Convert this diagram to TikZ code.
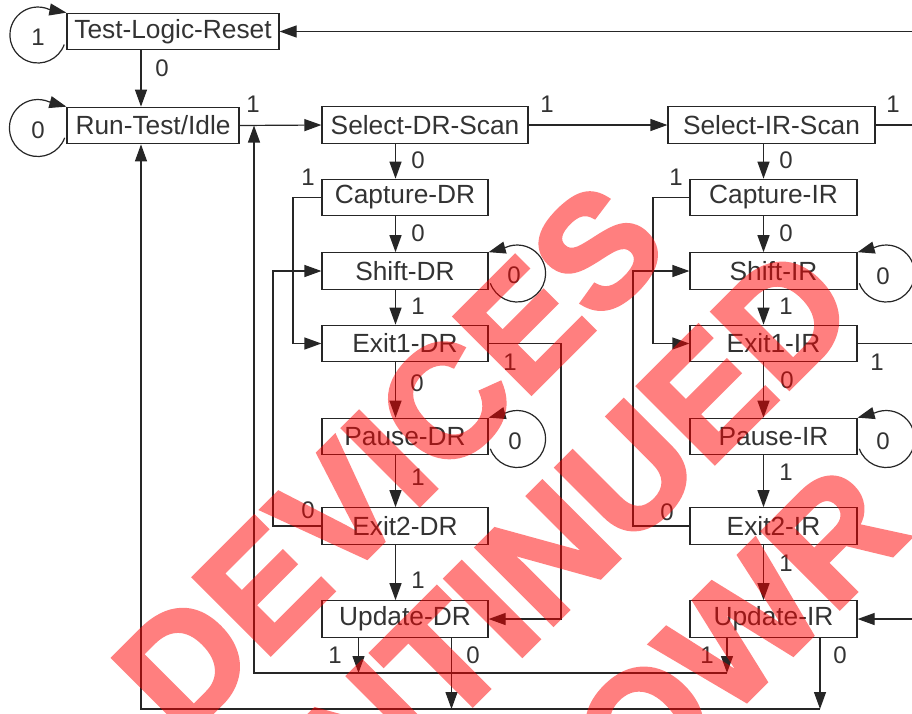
\documentclass[tikz,border=0pt]{standalone}
\usepackage{fontspec}
\setmainfont{Liberation Sans}
\newfontfamily\wmfont[FakeBold=2.5]{Liberation Sans Bold}
\usetikzlibrary{arrows.meta,calc}
\definecolor{linecol}{gray}{0.15}
\definecolor{txtcol}{gray}{0.2}
\begin{document}
\begin{tikzpicture}[x=1pt,y=1pt,
  st/.style={draw=linecol, line width=1.2pt, minimum height=36.5pt, inner sep=0pt, text=txtcol, font=\fontsize{26.3}{30}\selectfont},
  lbl/.style={text=txtcol, font=\fontsize{24}{28}\selectfont, inner sep=0pt},
  arr/.style={line width=1.2pt, draw=linecol, -{Triangle[length=17pt,width=12pt]}},
  wm/.style={text=red, font=\fontsize{158}{160}\wmfont, rotate=45, inner sep=0pt}
]
\useasboundingbox (0,0) rectangle (912,-713);
\clip (0,0) rectangle (912,-713);
\fill[white] (0,0) rectangle (912,-713);

% states
\node[st, minimum width=212pt] (TLR) at (173,-31.5) {Test-Logic-Reset};
\node[st, minimum width=172pt] (RTI) at (153,-125.5) {Run-Test/Idle};
\node[st, minimum width=206pt] (SDR) at (425,-125) {Select-DR-Scan};
\node[st, minimum width=166pt] (CDR) at (405,-197.5) {Capture-DR};
\node[st, minimum width=166pt] (ShDR) at (405,-271) {Shift-DR};
\node[st, minimum width=166pt] (E1DR) at (405,-343.5) {Exit1-DR};
\node[st, minimum width=166pt] (PDR) at (405,-436.5) {Pause-DR};
\node[st, minimum width=166pt] (E2DR) at (405,-526) {Exit2-DR};
\node[st, minimum width=166pt] (UDR) at (405,-619) {Update-DR};
\node[st, minimum width=207pt] (SIR) at (771.5,-125) {Select-IR-Scan};
\node[st, minimum width=167pt] (CIR) at (773.5,-197.5) {Capture-IR};
\node[st, minimum width=167pt] (ShIR) at (773.5,-271) {Shift-IR};
\node[st, minimum width=167pt] (E1IR) at (773.5,-343.5) {Exit1-IR};
\node[st, minimum width=167pt] (PIR) at (773.5,-436.5) {Pause-IR};
\node[st, minimum width=167pt] (E2IR) at (773.5,-526) {Exit2-IR};
\node[st, minimum width=167pt] (UIR) at (773.5,-619) {Update-IR};

% routing coordinates
\coordinate (cTL) at (141,0);
\coordinate (cD) at (395.5,0);
\coordinate (cI) at (763.5,0);
\coordinate (dL1) at (293,0);
\coordinate (dL2) at (273,0);
\coordinate (iL1) at (653,0);
\coordinate (iL2) at (633,0);
\coordinate (dR) at (561,0);
\coordinate (iR) at (930,0);
\coordinate (oR) at (945,0);
\coordinate (ret1) at (254,-673);
\coordinate (ret2) at (141,-709);
\coordinate (u1D) at (358.5,0);
\coordinate (u0D) at (451.5,0);
\coordinate (u1I) at (727,0);
\coordinate (u0I) at (820,0);
\coordinate (yA) at (0,-673);
\coordinate (yB) at (0,-709);

% top connectors
\draw[arr] (TLR.south -| cTL) -- (RTI.north -| cTL);
\draw[arr] (RTI.east) -- (SDR.west);
\draw[arr] (SDR.east) -- (SIR.west);
\draw[arr] (SIR.east) -- (SIR.east -| oR) -- (TLR.east -| oR) -- (TLR.east);

% DR column
\draw[arr] (SDR.south -| cD) -- (CDR.north -| cD);
\draw[arr] (CDR.south -| cD) -- (ShDR.north -| cD);
\draw[arr] (ShDR.south -| cD) -- (E1DR.north -| cD);
\draw[arr] (E1DR.south -| cD) -- (PDR.north -| cD);
\draw[arr] (PDR.south -| cD) -- (E2DR.north -| cD);
\draw[arr] (E2DR.south -| cD) -- (UDR.north -| cD);
\draw[arr] (CDR.west) -- (CDR.west -| dL1) -- (E1DR.west -| dL1) -- (E1DR.west);
\draw[arr] (E2DR.west) -- (E2DR.west -| dL2) -- (ShDR.west -| dL2) -- (ShDR.west);
\draw[arr] (E1DR.east) -- (E1DR.east -| dR) -- (UDR.east -| dR) -- (UDR.east);

% IR column
\draw[arr] (SIR.south -| cI) -- (CIR.north -| cI);
\draw[arr] (CIR.south -| cI) -- (ShIR.north -| cI);
\draw[arr] (ShIR.south -| cI) -- (E1IR.north -| cI);
\draw[arr] (E1IR.south -| cI) -- (PIR.north -| cI);
\draw[arr] (PIR.south -| cI) -- (E2IR.north -| cI);
\draw[arr] (E2IR.south -| cI) -- (UIR.north -| cI);
\draw[arr] (CIR.west) -- (CIR.west -| iL1) -- (E1IR.west -| iL1) -- (E1IR.west);
\draw[arr] (E2IR.west) -- (E2IR.west -| iL2) -- (ShIR.west -| iL2) -- (ShIR.west);
\draw[arr] (E1IR.east) -- (E1IR.east -| iR) -- (UIR.east -| iR) -- (UIR.east);

% bottom returns
\draw[arr] (UDR.south -| u1D) -- (u1D |- yA);
\draw[arr] (UDR.south -| u0D) -- (u0D |- yB);
\draw[arr] (UIR.south -| u1I) -- (u1I |- yA);
\draw[arr] (UIR.south -| u0I) -- (u0I |- yB);
\draw[arr] (u1I |- yA) -- (ret1) -- (ret1 |- RTI.east);
\draw[arr] (u0I |- yB) -- (ret2) -- (RTI.south -| ret2);

% self loops
\draw[arr] ($(TLR.west)+(-28.5,-3.5)+(-20:28)$) arc[start angle=-20, end angle=-294, radius=28] -- (TLR.north west);
\draw[arr] ($(RTI.west)+(-28.5,-2.5)+(-20:28.5)$) arc[start angle=-20, end angle=-294, radius=28.5] -- (RTI.north west);
\draw[arr] ($(ShDR.east)+(28.5,-2.5)+(200:28.5)$) arc[start angle=200, end angle=474, radius=28.5] -- (ShDR.north east);
\draw[arr] ($(PDR.east)+(28.5,-2.5)+(200:28.5)$) arc[start angle=200, end angle=474, radius=28.5] -- (PDR.north east);
\draw[arr] ($(ShIR.east)+(28.5,-2.5)+(200:28.5)$) arc[start angle=200, end angle=474, radius=28.5] -- (ShIR.north east);
\draw[arr] ($(PIR.east)+(28.5,-2.5)+(200:28.5)$) arc[start angle=200, end angle=474, radius=28.5] -- (PIR.north east);

% labels
\node[lbl] (l1) at (38,-37) {1};
\node[lbl] (l2) at (38,-130) {0};
\node[lbl] (l3) at (162,-68) {0};
\node[lbl] (l4) at (253,-104) {1};
\node[lbl] (l5) at (547,-104) {1};
\node[lbl] (l6) at (418,-160) {0};
\node[lbl] (l7) at (308,-177) {1};
\node[lbl] (l8) at (418,-233) {0};
\node[lbl] (l9) at (514,-275) {0};
\node[lbl] (l10) at (418,-306) {1};
\node[lbl] (l11) at (510,-362) {1};
\node[lbl] (l12) at (417,-383) {0};
\node[lbl] (l13) at (515,-441) {0};
\node[lbl] (l14) at (418,-477) {1};
\node[lbl] (l15) at (308,-510) {0};
\node[lbl] (l16) at (418,-580) {1};
\node[lbl] (l17) at (335,-655) {1};
\node[lbl] (l18) at (473,-655) {0};
\node[lbl] (l19) at (893,-104) {1};
\node[lbl] (l20) at (786,-160) {0};
\node[lbl] (l21) at (676,-177) {1};
\node[lbl] (l22) at (786,-233) {0};
\node[lbl] (l23) at (883,-276) {0};
\node[lbl] (l24) at (786,-306) {1};
\node[lbl] (l25) at (877,-362) {1};
\node[lbl] (l26) at (787,-380) {0};
\node[lbl] (l27) at (883,-441) {0};
\node[lbl] (l28) at (786,-472) {1};
\node[lbl] (l29) at (667,-512) {0};
\node[lbl] (l30) at (786,-563) {1};
\node[lbl] (l31) at (707,-655) {1};
\node[lbl] (l32) at (840,-655) {0};

% watermark
\begin{scope}[transparency group, opacity=0.5]
\node[wm] (w1) at (389.5,-458.5) {DEVICES};
\node[wm] (w2) at (399,-702) {DISCONTINUED};
\node[wm] (w3) at (738,-633) {OWR};
\end{scope}
\end{tikzpicture}
\end{document}
